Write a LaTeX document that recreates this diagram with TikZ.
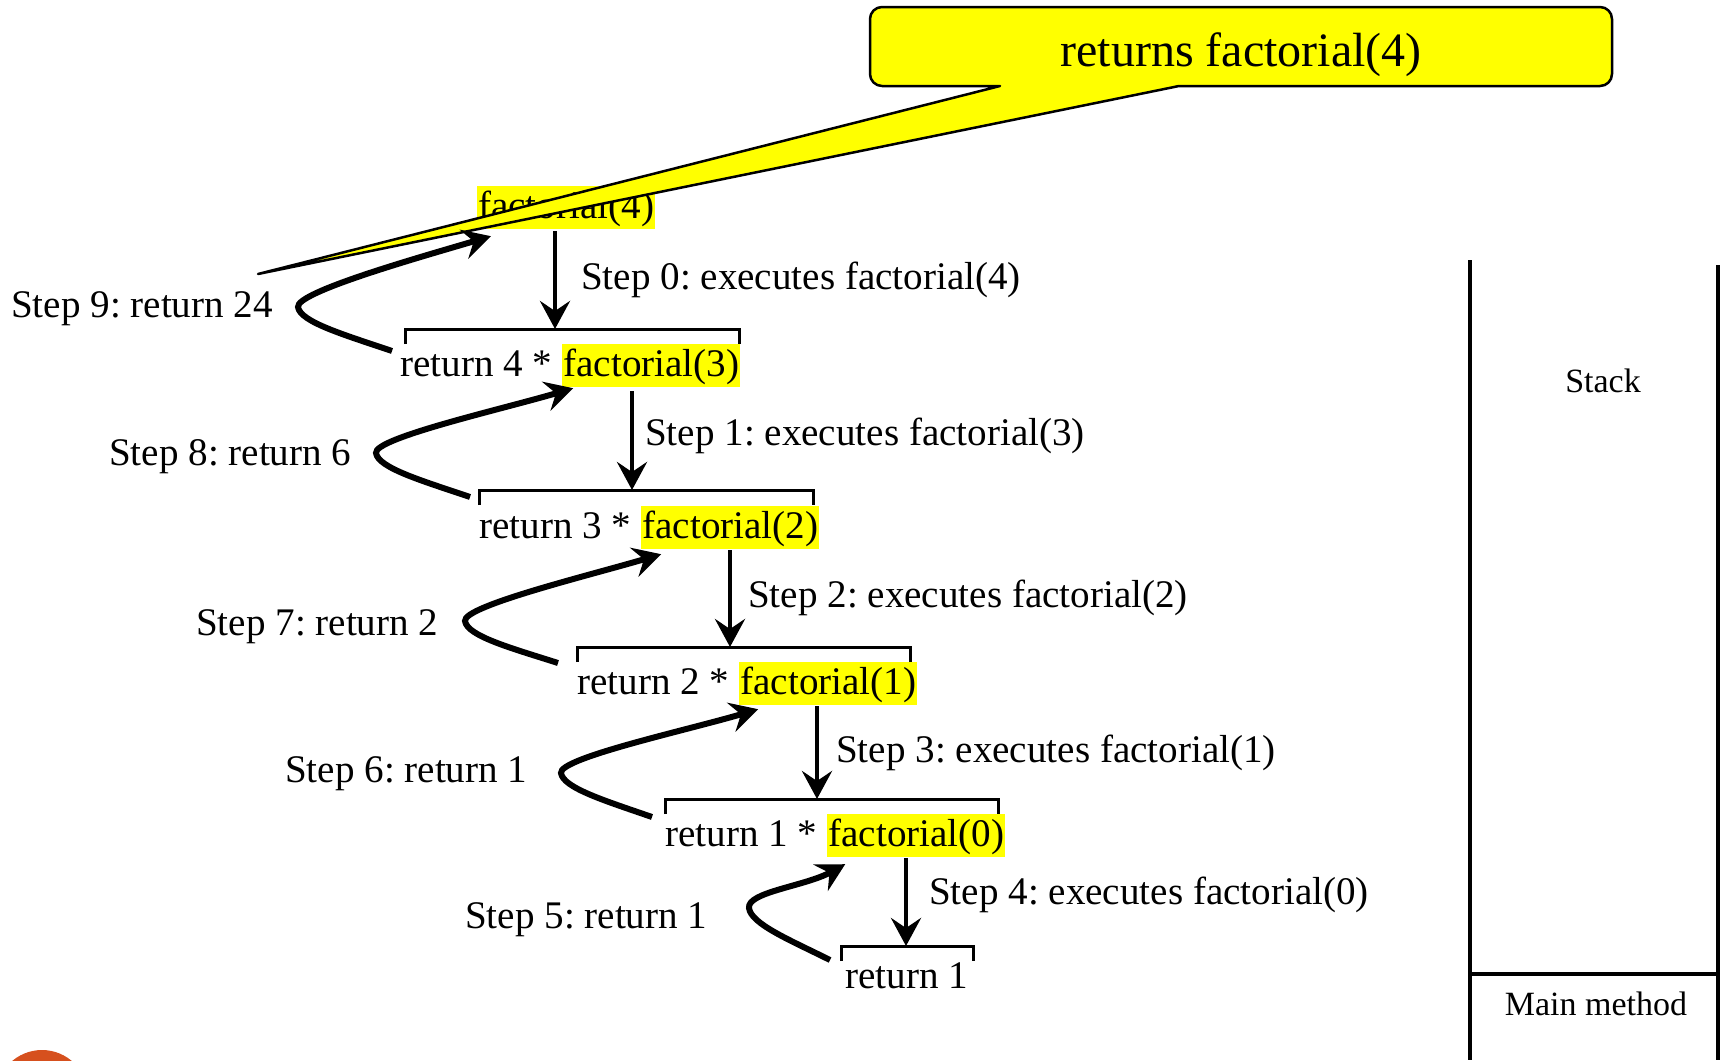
\documentclass[tikz,border=0pt]{standalone}
\usepackage{fontspec}
\setmainfont{Liberation Serif}
\usetikzlibrary{arrows.meta}
\frenchspacing
\newcommand{\mainsz}{\fontsize{39.1}{47}\selectfont}
\newcommand{\bigsz}{\fontsize{48}{58}\selectfont}
\newcommand{\stacksz}{\fontsize{34}{41}\selectfont}
\definecolor{hlyellow}{RGB}{255,255,0}
\definecolor{dotorange}{RGB}{214,80,30}
\begin{document}
\begin{tikzpicture}[x=1pt,y=1pt,
  txt/.style={font=\mainsz, inner sep=0pt, anchor=base west},
  hl/.style={font=\mainsz, fill=hlyellow, inner xsep=1pt, inner ysep=0pt, text height=32pt, text depth=11pt, anchor=base west},
  downarrow/.style={line width=4.7pt, -{Stealth[length=28pt,width=30pt,inset=10pt]}},
  backarrow/.style={line width=6pt, -{Stealth[length=28pt,width=30pt,inset=10pt]}},
  bracketline/.style={line width=3pt},
  stackline/.style={line width=3.3pt},
  calloutshape/.style={fill=hlyellow, draw=black, line width=2.5pt, line join=round},
  stacktxt/.style={font=\stacksz, inner sep=0pt}]
\useasboundingbox (0,0) rectangle (1720,-1060);

% orange dot at the bottom left
\begin{scope}
\clip (0,0) rectangle (1720,-1060);
\fill[dotorange] (42,-1096) circle (46);
\end{scope}

% top call
\node[hl] (f4) at (477,-218) {factorial(4)};

% call lines
\node[txt] (r1) at (400,-376) {return 4 *};
\node[hl] (f3) at ([xshift=9.8pt]r1.base east) {factorial(3)};
\node[txt] (r2) at (479,-538) {return 3 *};
\node[hl] (f2) at ([xshift=9.8pt]r2.base east) {factorial(2)};
\node[txt] (r3) at (577,-694) {return 2 *};
\node[hl] (f1) at ([xshift=9.8pt]r3.base east) {factorial(1)};
\node[txt] (r4) at (665,-846) {return 1 *};
\node[hl] (f0) at ([xshift=9.8pt]r4.base east) {factorial(0)};
\node[txt] (r5) at (845,-988) {return 1};

% brackets
\draw[bracketline] (405,-344) -- (405,-329) -- (739,-329) -- (739,-344);
\draw[bracketline] (479,-505) -- (479,-490) -- (813,-490) -- (813,-505);
\draw[bracketline] (577,-662) -- (577,-647) -- (910,-647) -- (910,-662);
\draw[bracketline] (665,-814) -- (665,-799) -- (998,-799) -- (998,-814);
\draw[bracketline] (841,-961) -- (841,-946) -- (973,-946) -- (973,-961);

\coordinate (k1) at (555,-329);
\coordinate (k2) at (632,-490);
\coordinate (k3) at (730,-647);
\coordinate (k4) at (817,-799);
\coordinate (k5) at (906,-946);

% step labels (calls)
\node[txt] (s0) at (581,-289) {Step 0: executes factorial(4)};
\node[txt] (s1) at (645,-445) {Step 1: executes factorial(3)};
\node[txt] (s2) at (748,-607) {Step 2: executes factorial(2)};
\node[txt] (s3) at (836,-762) {Step 3: executes factorial(1)};
\node[txt] (s4) at (929,-904) {Step 4: executes factorial(0)};

% step labels (returns)
\node[txt] (s9) at (11,-317) {Step 9: return 24};
\node[txt] (s8) at (109,-465) {Step 8: return 6};
\node[txt] (s7) at (196,-635) {Step 7: return 2};
\node[txt] (s6) at (285,-782) {Step 6: return 1};
\node[txt] (s5) at (465,-928) {Step 5: return 1};

% down arrows
\draw[downarrow] ([yshift=-2pt]f4.south -| k1) -- (k1);
\draw[downarrow] ([yshift=-4pt]f3.south -| k2) -- (k2);
\draw[downarrow] ([yshift=-1pt]f2.south -| k3) -- (k3);
\draw[downarrow] ([yshift=-1pt]f1.south -| k4) -- (k4);
\draw[downarrow] ([yshift=-1pt]f0.south -| k5) -- (k5);

% callout
\draw[calloutshape] (1000,-86) -- (258,-274) -- (1179,-86) -- (1600,-86)
  arc(-90:0:12) -- (1612,-19) arc(0:90:12) -- (882,-7) arc(90:180:12)
  -- (870,-74) arc(180:270:12) -- cycle;
\node[font=\bigsz, inner sep=0pt] (co) at (1241,-55) {returns factorial(4)};

% return arrows
\draw[backarrow] ([shift={(-8,25)}]r1.base west)
  .. controls +(-47,16) and +(2,-15) .. ++(-94,44)
  .. controls +(-2,15) and +(-71,-21) .. ([shift={(14,-7)}]f4.south west);
\draw[backarrow] ([shift={(-9,41)}]r2.base west)
  .. controls +(-47,16) and +(2,-15) .. ++(-94,44)
  .. controls +(-2,15) and +(-71,-21) .. ([shift={(11,-1)}]f3.south west);
\draw[backarrow] ([shift={(-19,31)}]r3.base west)
  .. controls +(-47,15) and +(2,-15) .. ++(-93,42)
  .. controls +(-2,15) and +(-71,-21) .. ([shift={(20,-5)}]f2.south west);
\draw[backarrow] ([shift={(-13,29)}]r4.base west)
  .. controls +(-46,16) and +(2,-15) .. ++(-91,44)
  .. controls +(-2,15) and +(-71,-21) .. ([shift={(19,-4)}]f1.south west);
\draw[backarrow] ([shift={(-15,28)}]r5.base west)
  .. controls +(-40,20) and +(2,-16) .. ++(-81,52)
  .. controls +(-2,16) and +(-40,-22) .. ([shift={(18,-7)}]f0.south west);

% stack
\draw[stackline] (1470,-260) -- (1470,-1060);
\draw[stackline] (1718,-265) -- (1718,-1060);
\draw[stackline] (1470,-974) -- (1720,-974);
\node[stacktxt] (stk) at (1603,-381) {Stack};
\node[stacktxt] (mm) at (1596,-1004) {Main method};
\end{tikzpicture}
\end{document}
